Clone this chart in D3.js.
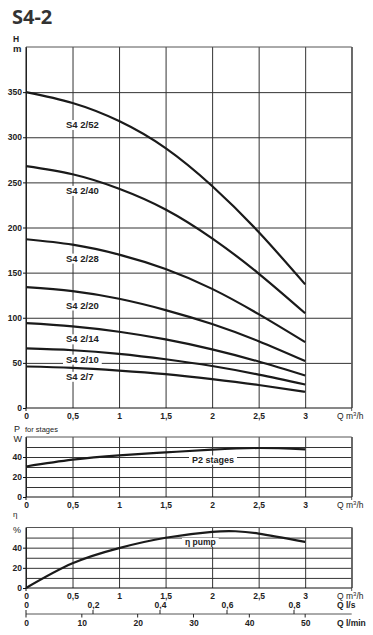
<!DOCTYPE html>
<html lang="en">
<head>
<meta charset="utf-8">
<title>S4-2</title>
<script src="https://d3js.org/d3.v7.min.js"></script>
<style>
  body { margin: 0; background: white; }
  svg text { font-family: "Liberation Sans", Arial, sans-serif; fill: #222; }
</style>
</head>
<body>
<div id="chart"></div>
<script>
// data
var Q = [0, 0.5, 1, 1.5, 2, 2.5, 3];
var pumpNames = ["S4 2/52", "S4 2/40", "S4 2/28", "S4 2/20", "S4 2/14", "S4 2/10", "S4 2/7"];
var h52 = [350, 338, 318, 288, 246, 195, 137];
var h40 = [268, 259, 243, 220, 188, 149, 105];
var h28 = [187, 181, 170, 154, 132, 104, 73];
var h20 = [134, 129.5, 121, 108.5, 93, 74, 52];
var h14 = [94, 90.5, 84.5, 76, 65, 51.5, 36];
var h10 = [66, 64, 60, 54, 46.5, 37, 26];
var h7 = [46, 44.5, 41.5, 37.5, 32, 25.5, 18];
var labelH = [314, 241, 166, 114, 76.5, 54, 35]; // where the name labels sit (m)
var p2 = [30.5, 37.3, 41.6, 44.6, 47.4, 49, 47.7];
var etaQ = [0, 0.5, 1, 1.5, 2, 2.25, 2.5, 3];
var eta = [0, 24.5, 39.6, 49.8, 55.7, 56.3, 54, 45.8];

var xTicks = [0, 0.5, 1, 1.5, 2, 2.5, 3];
var xTickLabels = ["0", "0,5", "1", "1,5", "2", "2,5", "3"];
var hTicks = [0, 50, 100, 150, 200, 250, 300, 350];
var pTicks = [0, 20, 40];
var etaTicks = [0, 20, 40];
var lsTicks = [0, 0.2, 0.4, 0.6, 0.8];
var lsLabels = ["0", "0,2", "0,4", "0,6", "0,8"];
var lminTicks = [0, 10, 20, 30, 40, 50];

var W = 373, H = 635;
var svg = d3.select("#chart").append("svg").attr("width", W).attr("height", H);

var x = d3.scaleLinear().domain([0, 3.5]).range([26, 351.7]);
var xls = d3.scaleLinear().domain([0, 3.5 / 3.6]).range([26, 351.7]);
var xlmin = d3.scaleLinear().domain([0, 3.5 * 1000 / 60]).range([26, 351.7]);

var yH = d3.scaleLinear().domain([0, 400]).range([408, 47]);
var yP = d3.scaleLinear().domain([0, 60]).range([497, 437]);
var yE = d3.scaleLinear().domain([0, 60]).range([588, 527.5]);

var gridColor = "#333";
var lineColor = "#1a1a1a";

// title
svg.append("text").attr("x", 12).attr("y", 24)
  .style("font-family", "'Noto Sans', sans-serif").style("font-weight", 700)
  .style("font-size", "20px").style("fill", "#333").text("S4-2");

function panel(y, yGrid, yLabels) {
  var g = svg.append("g");
  // horizontal grid
  g.append("g").attr("transform", "translate(" + x(0) + ",0)")
    .call(d3.axisLeft(y).tickValues(yGrid).tickSize(-(x(3.5) - x(0))).tickFormat(""))
    .call(function(a) { a.select(".domain").remove(); a.selectAll("line").attr("stroke", gridColor); });
  // vertical grid
  g.append("g").attr("transform", "translate(0," + y.range()[0] + ")")
    .call(d3.axisBottom(x).tickValues(xTicks.concat([3.5])).tickSize(-(y.range()[0] - y.range()[1])).tickFormat(""))
    .call(function(a) { a.select(".domain").remove(); a.selectAll("line").attr("stroke", gridColor); });
  // frame edges, left/right run a bit below
  var top = y.range()[1], bot = y.range()[0];
  g.append("line").attr("x1", x(0)).attr("x2", x(0)).attr("y1", top).attr("y2", bot + 3).attr("stroke", "#111");
  g.append("line").attr("x1", x(3.5)).attr("x2", x(3.5)).attr("y1", top).attr("y2", bot + 3).attr("stroke", "#555");
  g.append("line").attr("x1", x(0)).attr("x2", x(3.5)).attr("y1", top).attr("y2", top).attr("stroke", "#555");
  g.append("line").attr("x1", x(0)).attr("x2", x(3.5)).attr("y1", bot).attr("y2", bot).attr("stroke", "#111");
  // y labels
  g.append("g").attr("transform", "translate(" + x(0) + ",0)")
    .call(d3.axisLeft(y).tickValues(yLabels).tickSize(3).tickPadding(1).tickFormat(d3.format("d")))
    .call(function(a) {
      a.select(".domain").remove();
      a.selectAll("line").attr("stroke", "#111");
      a.selectAll("text").style("font-size", "8.5px").style("font-weight", "bold")
        .style("font-family", "'Liberation Sans', Arial, sans-serif").attr("fill", "#222");
    });
  return g;
}

function xLabels(yPos, scale, ticks, labels) {
  svg.append("g").attr("transform", "translate(0," + yPos + ")")
    .call(d3.axisBottom(scale).tickValues(ticks).tickSize(0).tickPadding(0)
      .tickFormat(function(d, i) { return labels[i]; }))
    .call(function(a) {
      a.select(".domain").remove();
      a.selectAll("text").style("font-size", "8.5px").style("font-weight", "bold")
        .style("font-family", "'Liberation Sans', Arial, sans-serif").attr("fill", "#222").attr("dy", "0");
    });
}

function boxedLabel(g, tx, ty, txt, size) {
  var t = g.append("text").attr("x", tx).attr("y", ty).text(txt)
    .style("font-size", size + "px").style("font-weight", "bold");
  var b = t.node().getBBox();
  g.insert("rect", "text").attr("x", b.x - 3).attr("y", b.y + 1).attr("width", b.width + 6)
    .attr("height", b.height - 1).attr("fill", "white");
  t.raise();
  return t;
}

// ---- main chart: head
var gMain = panel(yH, [50, 100, 150, 200, 250, 300, 350], hTicks);
var heads = [h52, h40, h28, h20, h14, h10, h7];
var lineH = d3.line().x(function(d, i) { return x(Q[i]); }).y(function(d) { return yH(d); }).curve(d3.curveNatural);
gMain.selectAll(".pump").data(heads).enter().append("path").attr("class", "pump")
  .attr("d", lineH).attr("fill", "none").attr("stroke", lineColor).attr("stroke-width", 2.2);
var labG = svg.append("g");
pumpNames.forEach(function(n, i) {
  boxedLabel(labG, 66, yH(labelH[i]) + 3.4, n, 9.5);
});
xLabels(418.5, x, xTicks, xTickLabels);
svg.append("text").attr("x", 13).attr("y", 42).text("H").style("font-size", "8.5px").style("font-weight", "bold");
svg.append("text").attr("x", 13).attr("y", 52).text("m").style("font-size", "9.5px").style("font-weight", "bold");
svg.append("text").attr("x", 337).attr("y", 418.5).style("font-size", "8.5px")
  .html('Q m<tspan dy="-3" font-size="6">3</tspan><tspan dy="3">/h</tspan>');

// ---- power chart
var gP = panel(yP, [10, 20, 30, 40, 50], pTicks);
var lineP = d3.line().x(function(d, i) { return x(Q[i]); }).y(function(d) { return yP(d); }).curve(d3.curveNatural);
gP.append("path").datum(p2).attr("d", lineP).attr("fill", "none").attr("stroke", lineColor).attr("stroke-width", 2.2);
boxedLabel(svg.append("g"), 192, 462.5, "P2 stages", 9);
xLabels(508, x, xTicks, xTickLabels);
svg.append("text").attr("x", 14).attr("y", 432).text("P").style("font-size", "9px");
svg.append("text").attr("x", 25).attr("y", 431.5).text("for stages").style("font-size", "7.5px");
svg.append("text").attr("x", 13.5).attr("y", 442).text("W").style("font-size", "9px");
svg.append("text").attr("x", 337).attr("y", 508).style("font-size", "8.5px")
  .html('Q m<tspan dy="-3" font-size="6">3</tspan><tspan dy="3">/h</tspan>');

// ---- efficiency chart
var gE = panel(yE, [10, 20, 30, 40, 50], etaTicks);
var lineE = d3.line().x(function(d, i) { return x(etaQ[i]); }).y(function(d) { return yE(d); }).curve(d3.curveNatural);
gE.append("path").datum(eta).attr("d", lineE).attr("fill", "none").attr("stroke", lineColor).attr("stroke-width", 2.2);
boxedLabel(svg.append("g"), 185, 545, "\u03b7 pump", 8.5);
xLabels(599, x, xTicks, xTickLabels);
xLabels(608, xls, lsTicks, lsLabels);
xLabels(626, xlmin, lminTicks, lminTicks.map(String));
svg.append("text").attr("x", 13).attr("y", 517).text("\u03b7").style("font-size", "8px");
svg.append("text").attr("x", 13).attr("y", 533).text("%").style("font-size", "9px");
svg.append("text").attr("x", 337).attr("y", 599).style("font-size", "8.5px")
  .html('Q m<tspan dy="-3" font-size="6">3</tspan><tspan dy="3">/h</tspan>');
svg.append("text").attr("x", 337).attr("y", 608).text("Q l/s").style("font-size", "8.5px").style("font-weight", "bold");
svg.append("text").attr("x", 337).attr("y", 626).text("Q l/min").style("font-size", "8.5px").style("font-weight", "bold");

// flow axes under the efficiency chart
var gQ = svg.append("g");
gQ.append("line").attr("x1", xlmin(0)).attr("x2", x(3.5)).attr("y1", 614).attr("y2", 614).attr("stroke", "#555");
gQ.append("line").attr("x1", xlmin(0)).attr("x2", xlmin(0)).attr("y1", 610).attr("y2", 617.5).attr("stroke", "#222");
gQ.selectAll(".lmin").data(lminTicks.slice(1)).enter().append("line").attr("class", "lmin")
  .attr("x1", function(d) { return xlmin(d); }).attr("x2", function(d) { return xlmin(d); })
  .attr("y1", 614).attr("y2", 617.5).attr("stroke", "#222");
gQ.selectAll(".ls").data(lsTicks.slice(1)).enter().append("line").attr("class", "ls")
  .attr("x1", function(d) { return xls(d); }).attr("x2", function(d) { return xls(d); })
  .attr("y1", 610).attr("y2", 614).attr("stroke", "#222");
</script>
</body>
</html>
